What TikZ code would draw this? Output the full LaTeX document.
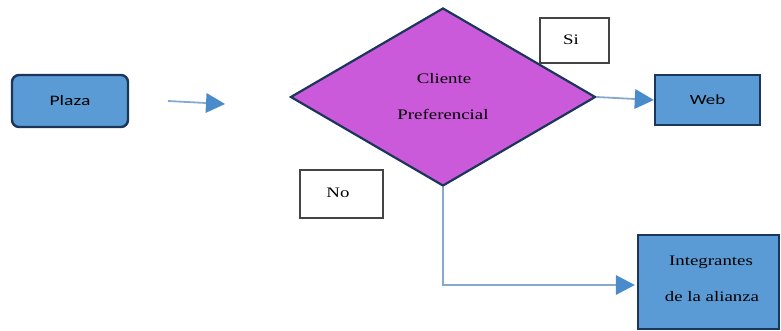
\documentclass[tikz,border=0pt]{standalone}
\usepackage{fontspec}
\setmainfont{Liberation Serif}[FakeStretch=1.3]
\newfontfamily\labelsans{Carlito}[FakeStretch=1.35]
\usetikzlibrary{shapes.geometric,arrows.meta}
\definecolor{boxblue}{HTML}{5B9BD5}
\definecolor{navy}{HTML}{1B365A}
\definecolor{orchid}{HTML}{CB5ADB}
\definecolor{linkblue}{HTML}{86AACF}
\definecolor{tipblue}{HTML}{4A8BCB}
\definecolor{framegray}{HTML}{444444}
\begin{document}
\begin{tikzpicture}[x=1pt,y=-1pt,
  bluebox/.style={draw=navy, line width=2.4pt, fill=boxblue, inner sep=0pt, align=center},
  decision/.style={diamond, draw=navy, line width=2.2pt, fill=orchid, inner sep=0pt},
  tagbox/.style={draw=framegray, line width=1.1pt, fill=white, inner sep=0pt},
  conn/.style={draw=linkblue, line width=1.8pt,
    -{Triangle[length=19pt,width=20pt,fill=tipblue,line width=0pt,color=tipblue]}},
  txt/.style={font=\fontsize{14.5}{16}\selectfont, text=black}]
\useasboundingbox (0,0) rectangle (781,331);
\fill[white] (0,0) rectangle (781,331);

% process boxes
\node[bluebox, rounded corners=7pt, minimum width=116pt, minimum height=52pt, font=\labelsans\fontsize{14.5}{16}\selectfont] (plaza) at (70,101) {Plaza};
\node[bluebox, minimum width=105pt, minimum height=50pt, font=\labelsans\fontsize{14}{16}\selectfont] (web) at (707.5,100) {Web};
\node[bluebox, minimum width=141pt, minimum height=94pt] (integ) at (708.5,282) {};
\node[txt] (integ1) at (711,262) {Integrantes};
\node[txt] (integ2) at (712,297) {de la alianza};

% decision
\node[decision, minimum width=305pt, minimum height=178pt] (dec) at (443,97) {};
\node[txt] (dec1) at (444,79) {Cliente};
\node[txt] (dec2) at (443,114) {Preferencial};

% answer labels
\node[tagbox, minimum width=69pt, minimum height=45pt] (si) at (574.5,40.5) {};
\node[txt] (sitxt) at (571,40) {Si};
\node[tagbox, minimum width=83pt, minimum height=48pt] (no) at (341.5,194) {};
\node[txt] (notxt) at (338,193) {No};

% connectors
\coordinate (a1) at (168,101);
\coordinate (a2) at (225,104);
\draw[conn] (a1) -- (a2);
\draw[conn] (dec.east) -- (web.west);
\draw[conn, shorten >=2pt] (dec.south) |- (integ.west |- 0,285);
\end{tikzpicture}
\end{document}
